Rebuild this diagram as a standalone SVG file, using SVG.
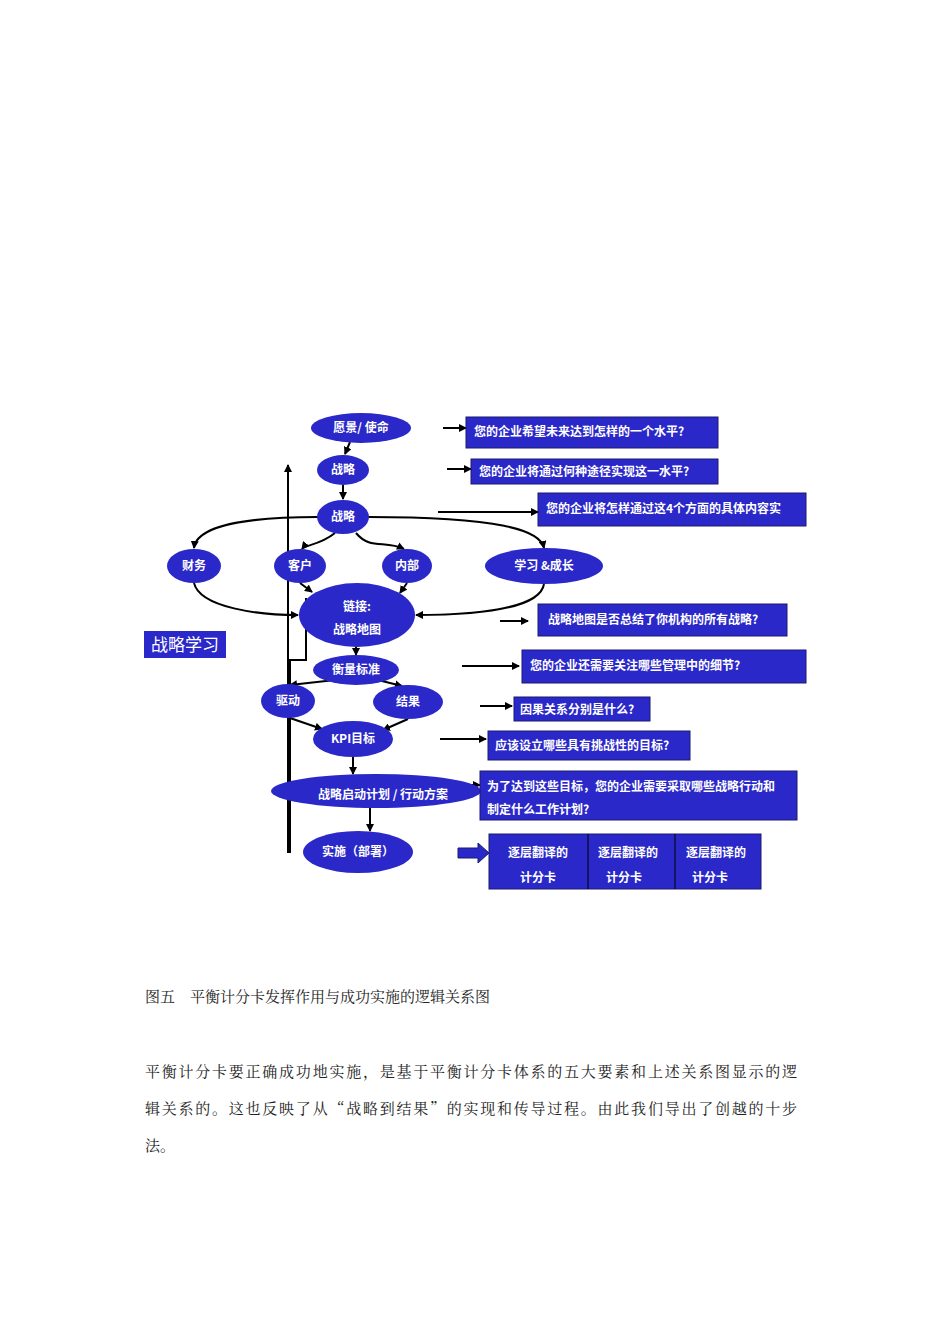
<svg xmlns="http://www.w3.org/2000/svg" width="950" height="1344" viewBox="0 0 950 1344">
<defs>
<marker id="ah" markerWidth="8" markerHeight="8" refX="7" refY="4" orient="auto" markerUnits="userSpaceOnUse"><path d="M0,0 L8,4 L0,8 z" fill="#000"/></marker>
<style>
.n{fill:#2a28c8}
.b{fill:#2a28c8;stroke:#1a1a70;stroke-width:1}
.t{fill:#fff;font-family:"Noto Sans CJK SC","Noto Sans",sans-serif;font-weight:bold;font-size:12px;text-anchor:middle}
.q{fill:#fff;font-family:"Noto Sans CJK SC",sans-serif;font-weight:bold;font-size:12px}
.c{fill:none;stroke:#000;stroke-width:2;marker-end:url(#ah)}
.p{font-family:"Noto Serif CJK SC","Noto Sans CJK SC",serif;font-size:15px;fill:#222}
</style>
</defs>
<rect width="950" height="1344" fill="#fff"/>
<g id="connectors">
<path class="c" d="M350,442 L345,454"/>
<path class="c" d="M343,485 L343,499"/>
<path class="c" d="M318,517 C230,517 196,530 194,548"/>
<path class="c" d="M368,517 C500,517 540,530 544,548"/>
<path class="c" d="M335,533 C320,545 305,545 302,549"/>
<path class="c" d="M356,533 C370,550 385,540 404,549"/>
<path class="c" d="M194,583 C200,608 260,615 298,615"/>
<path class="c" d="M544,584 C540,610 470,615 416,615"/>
<path class="c" d="M300,583 L312,592"/>
<path class="c" d="M407,583 L400,593"/>
<path class="c" d="M356,640 L356,655"/>
<path class="c" d="M335,680 L290,685"/>
<path class="c" d="M378,680 L402,686"/>
<path class="c" d="M290,718 L322,729"/>
<path class="c" d="M408,719 L383,730"/>
<path class="c" d="M353,757 L353,774"/>
<path class="c" d="M370,808 L370,831"/>
<path class="c" d="M288,853 L288,465"/>
<path d="M290,853 L290,660 L306,660 L306,598" fill="none" stroke="#000" stroke-width="2"/>
<path class="c" d="M443,428 L466,428"/>
<path class="c" d="M447,469 L471,469"/>
<path class="c" d="M438,512 L538,512"/>
<path class="c" d="M500,621 L528,621"/>
<path class="c" d="M462,666 L519,666"/>
<path class="c" d="M480,706 L512,706"/>
<path class="c" d="M440,739 L486,739"/>
<path class="c" d="M448,785 L480,785"/>
<path d="M458,848 L478,848 L478,843 L489,853 L478,863 L478,858 L458,858 z" fill="#2a28c8" stroke="#1a1a70"/>
</g>
<g id="n1"><ellipse class="n" cx="361" cy="428" rx="50" ry="15"/><text class="t" x="361" y="432">愿景/ 使命</text></g>
<g id="n2"><ellipse class="n" cx="343" cy="470" rx="26" ry="15"/><text class="t" x="343" y="474">战略</text></g>
<g id="n3"><ellipse class="n" cx="343" cy="517" rx="26" ry="17"/><text class="t" x="343" y="521">战略</text></g>
<g id="n4"><ellipse class="n" cx="194" cy="566" rx="27" ry="17"/><text class="t" x="194" y="570">财务</text></g>
<g id="n5"><ellipse class="n" cx="300" cy="566" rx="26" ry="17"/><text class="t" x="300" y="570">客户</text></g>
<g id="n6"><ellipse class="n" cx="407" cy="566" rx="25" ry="17"/><text class="t" x="407" y="570">内部</text></g>
<g id="n7"><ellipse class="n" cx="544" cy="566" rx="59" ry="18"/><text class="t" x="544" y="570">学习 &amp;成长</text></g>
<g id="n8"><ellipse class="n" cx="357" cy="615" rx="58" ry="32"/><text class="t" x="357" y="611">链接:</text><text class="t" x="357" y="634" font-size="10">战略地图</text></g>
<g id="n9"><ellipse class="n" cx="356" cy="670" rx="43" ry="15"/><text class="t" x="356" y="674">衡量标准</text></g>
<g id="n10"><ellipse class="n" cx="288" cy="701" rx="27" ry="17"/><text class="t" x="288" y="705">驱动</text></g>
<g id="n11"><ellipse class="n" cx="408" cy="702" rx="35" ry="17"/><text class="t" x="408" y="706">结果</text></g>
<g id="n12"><ellipse class="n" cx="353" cy="739" rx="40" ry="18"/><text class="t" x="353" y="743">KPI目标</text></g>
<g id="n13"><ellipse class="n" cx="376" cy="791" rx="105" ry="17"/><text class="t" x="383" y="799">战略启动计划 / 行动方案</text></g>
<g id="n14"><ellipse class="n" cx="358" cy="852" rx="55" ry="21"/><text class="t" x="358" y="856">实施（部署）</text></g>
<g id="q1"><rect class="b" x="466" y="417" width="252" height="31"/><text class="q" x="474" y="436">您的企业希望未来达到怎样的一个水平?</text></g>
<g id="q2"><rect class="b" x="471" y="459" width="247" height="25"/><text class="q" x="479" y="476">您的企业将通过何种途径实现这一水平?</text></g>
<g id="q3"><rect class="b" x="538" y="493" width="268" height="33"/><text class="q" x="546" y="513">您的企业将怎样通过这4个方面的具体内容实</text></g>
<g id="q4"><rect class="b" x="538" y="604" width="249" height="32"/><text class="q" x="548" y="624">战略地图是否总结了你机构的所有战略?</text></g>
<g id="q5"><rect class="b" x="522" y="650" width="284" height="33"/><text class="q" x="530" y="670">您的企业还需要关注哪些管理中的细节?</text></g>
<g id="q6"><rect class="b" x="514" y="697" width="136" height="24"/><text class="q" x="520" y="714">因果关系分别是什么?</text></g>
<g id="q7"><rect class="b" x="488" y="731" width="202" height="29"/><text class="q" x="495" y="750">应该设立哪些具有挑战性的目标?</text></g>
<g id="q8"><rect class="b" x="480" y="771" width="317" height="49"/><text class="q" x="487" y="791">为了达到这些目标，您的企业需要采取哪些战略行动和</text><text class="q" x="487" y="814">制定什么工作计划?</text></g>
<g id="cards"><rect class="b" x="489" y="834" width="272" height="55" stroke="#000"/><line x1="588" y1="834" x2="588" y2="889" stroke="#000"/><line x1="675" y1="834" x2="675" y2="889" stroke="#000"/>
<text class="t" x="538" y="857" font-size="16">逐层翻译的</text><text class="t" x="538" y="882" font-size="16">计分卡</text>
<text class="t" x="628" y="857" font-size="16">逐层翻译的</text><text class="t" x="624" y="882" font-size="16">计分卡</text>
<text class="t" x="716" y="857" font-size="16">逐层翻译的</text><text class="t" x="710" y="882" font-size="16">计分卡</text></g>
<g id="learn"><rect x="144" y="631" width="82" height="27" fill="#2a28c8"/><text x="185" y="651" fill="#fff" font-family="Noto Sans CJK SC,sans-serif" font-size="17" text-anchor="middle">战略学习</text></g>
<text class="p" x="145" y="1002">图五　平衡计分卡发挥作用与成功实施的逻辑关系图</text>
<text class="p" x="145" y="1077" textLength="652">平衡计分卡要正确成功地实施，是基于平衡计分卡体系的五大要素和上述关系图显示的逻</text>
<text class="p" x="145" y="1114" textLength="652">辑关系的。这也反映了从“战略到结果”的实现和传导过程。由此我们导出了创越的十步</text>
<text class="p" x="145" y="1151">法。</text>
</svg>
